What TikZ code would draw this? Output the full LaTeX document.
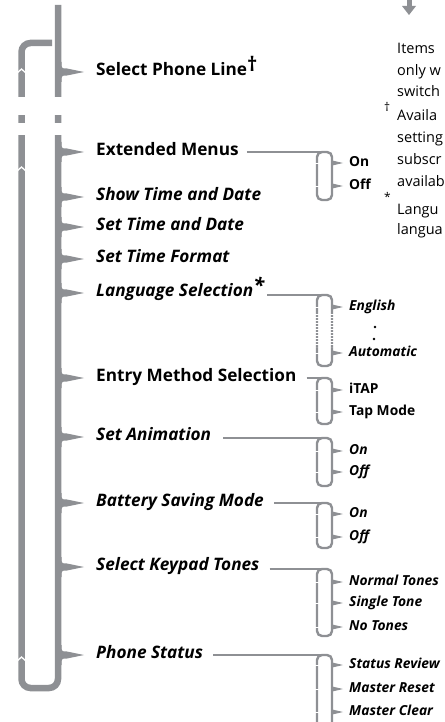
\documentclass[tikz,border=0pt]{standalone}
\usepackage{fontspec}
\setmainfont{Open Sans}
\usetikzlibrary{arrows.meta,positioning}
\definecolor{menugray}{HTML}{8E9094}
\newcommand\itemsize{\fontsize{17.2}{20}\selectfont}
\newcommand\optsize{\fontsize{13.8}{16}\selectfont}
\newcommand\notesize{\fontsize{14.5}{17}\selectfont}

\begin{document}
\begin{tikzpicture}[x=1pt, y=-1pt,
    trunk/.style={draw=menugray, line width=6.5pt, rounded corners=9pt},
    sub/.style={draw=menugray, line width=2.4pt, rounded corners=5pt},
    mitem/.style={anchor=west, inner sep=0pt, text height=0.72em, text depth=0pt, font=\itemsize\bfseries},
    iitem/.style={mitem, font=\itemsize\bfseries\itshape},
    opt/.style={anchor=west, inner sep=0pt, text height=0.72em, text depth=0pt, font=\optsize\bfseries},
    iopt/.style={opt, font=\optsize\bfseries\itshape},
    note/.style={anchor=west, inner sep=0pt, text height=0.72em, text depth=0pt, font=\notesize}]
  \useasboundingbox (0,0) rectangle (444,722);
  \clip (0,0) rectangle (444,722);

  % main loop and trunk
  \draw[trunk] (52,43) -- (21.5,43) -- (21.5,688) -- (58,688) -- (58,5);
  \fill[white] (10,97) rectangle (70,115);
  \fill[white] (10,123) rectangle (70,135);
  \foreach \y in {70,168,658}
    \draw[white, line width=1.3pt] (16,\y+4) -- (21.5,\y-1) -- (27,\y+4);
  \foreach \y in {72,152,197,227,259,293,378,437,503,567,655}
    \fill[menugray] (61.5,\y-10) .. controls (61.5,\y-3.5) .. (67,\y-3.5) -- (84,\y)
      -- (67,\y+3.5) .. controls (61.5,\y+3.5) .. (61.5,\y+10) -- (55,\y+10) -- (55,\y-10) -- cycle;

  % top arrow
  \fill[menugray] (406.5,0) rectangle (411.5,7);
  \fill[menugray] (402,6) -- (416,6) -- (409,15) -- cycle;

  % menu items
  \node[mitem] (spl) at (96,72) {Select Phone Line\raisebox{4pt}{\fontsize{20}{20}\selectfont †}};
  \node[mitem] (ext) at (96,152) {Extended Menus};
  \node[iitem] (stad) at (96,197) {Show Time and Date};
  \node[iitem] (setd) at (96,227) {Set Time and Date};
  \node[iitem] (stf) at (96,259) {Set Time Format};
  \node[iitem] (lang) at (96,293) {Language Selection\raisebox{4pt}{\fontsize{20}{20}\selectfont *}};
  \node[mitem] (entry) at (96,378) {Entry Method Selection};
  \node[iitem] (anim) at (96,437) {Set Animation};
  \node[iitem] (batt) at (96,503) {Battery Saving Mode};
  \node[iitem] (keyt) at (96,567) {Select Keypad Tones};
  \node[iitem] (stat) at (96,655) {Phone Status};

  % sub brackets
  \coordinate (ext-b) at (325,152);
  \coordinate (lang-b) at (325,295);
  \coordinate (entry-b) at (325,378);
  \coordinate (anim-b) at (325,438);
  \coordinate (batt-b) at (325,503);
  \coordinate (keyt-b) at (325,569);
  \coordinate (stat-b) at (325,655);
  \draw[sub] ([xshift=8pt]ext.east) -- (ext-b);
  \draw[sub] ([xshift=3pt]lang.east |- lang-b) -- (lang-b);
  \draw[sub] ([xshift=10pt]entry.east) -- (entry-b);
  \draw[sub] ([xshift=12pt]anim.east |- anim-b) -- (anim-b);
  \draw[sub] ([xshift=10pt]batt.east) -- (batt-b);
  \draw[sub] ([xshift=10pt]keyt.east |- keyt-b) -- (keyt-b);
  \draw[sub] ([xshift=10pt]stat.east) -- (stat-b);
  \draw[sub] (317,152) rectangle (332,200);
  \draw[sub] (317,295) rectangle (332,366);
  \draw[sub] (317,378) rectangle (332,424);
  \draw[sub] (317,438) rectangle (332,486);
  \draw[sub] (317,503) rectangle (332,548);
  \draw[sub] (317,569) rectangle (332,636);
  \draw[sub] (317,655) rectangle (332,760);
  \foreach \x in {317,332}
    \draw[white, line width=4pt, dash pattern=on 1pt off 2pt] (\x,314) -- (\x,347);
  \foreach \y in {163,186,307,353,390,412,451,472,514,537,582,603,627,665,689,712} {
    \fill[menugray] (331,\y-2.8) -- (343,\y) -- (331,\y+2.8) -- cycle;
    \draw[white, line width=0.7pt] (314.5,\y) -- (319.5,\y);
  }

  % options
  \node[opt] (ext-on) at (349,163) {On};
  \node[opt] (ext-off) at (349,186) {Off};
  \node[iopt] (lang-en) at (349,307) {English};
  \fill[black] (375,327) circle (1.3pt) (374,339) circle (1.3pt);
  \node[iopt] (lang-auto) at (349,353) {Automatic};
  \node[opt] (entry-itap) at (349,390) {iTAP};
  \node[opt] (entry-tap) at (349,412) {Tap Mode};
  \node[iopt] (anim-on) at (349,451) {On};
  \node[iopt] (anim-off) at (349,472) {Off};
  \node[iopt] (batt-on) at (349,514) {On};
  \node[iopt] (batt-off) at (349,537) {Off};
  \node[iopt] (keyt-norm) at (349,582) {Normal Tones};
  \node[iopt] (keyt-single) at (349,603) {Single Tone};
  \node[iopt] (keyt-no) at (349,627) {No Tones};
  \node[iopt] (stat-rev) at (349,665) {Status Review};
  \node[iopt] (stat-reset) at (349,689) {Master Reset};
  \node[iopt] (stat-clear) at (349,712) {Master Clear};

  % side notes
  \node[note] (n1) at (397,50) {Items};
  \node[note] (n2) at (397,72) {only w};
  \node[note] (n3) at (397,93) {switch};
  \node[note] (dag) at (384,108) {\fontsize{12}{12}\selectfont †};
  \node[note] (n4) at (397,117) {Availa};
  \node[note] (n5) at (397,139) {setting};
  \node[note] (n6) at (397,161) {subscr};
  \node[note] (n7) at (397,183) {availab};
  \node[note] (ast) at (384,198) {\fontsize{12}{12}\selectfont *};
  \node[note] (n8) at (397,211) {Langu};
  \node[note] (n9) at (397,231) {langua};
\end{tikzpicture}
\end{document}
